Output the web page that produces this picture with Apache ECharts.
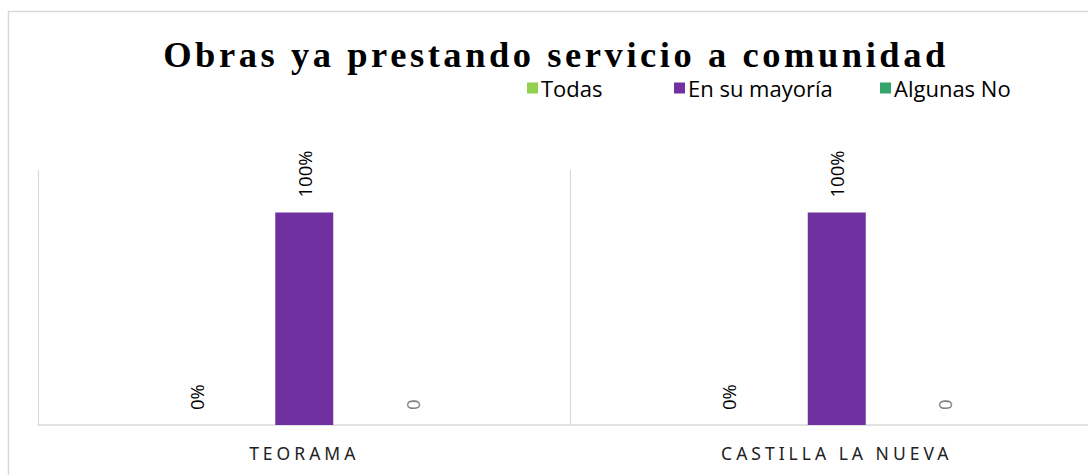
<!DOCTYPE html>
<html>
<head>
<meta charset="utf-8">
<script src="https://cdn.jsdelivr.net/npm/echarts@6/dist/echarts.min.js"></script>
<style>
  html, body { margin: 0; padding: 0; background: #fff; }
  #chart { width: 1088px; height: 475px; }
  #chart text[style*="Liberation Serif"] { letter-spacing: 3.55px; }
  #chart text[style*="Noto Sans"] { letter-spacing: 4px; }
</style>
</head>
<body>
<div id="chart"></div>
<script>
const titleText = 'Obras ya prestando servicio a comunidad';
const categories = ['TEORAMA', 'CASTILLA LA NUEVA'];
const seriesNames = ['Todas', 'En su mayoría', 'Algunas No'];
const todas = [0, 0];
const enSuMayoria = [1, 1];
const algunasNo = [0, 0];

const colors = ['#92D050', '#7030A0', '#35A46C'];

const chart = echarts.init(document.getElementById('chart'), null, { renderer: 'svg' });

function pct(p) { return Math.round(p.value * 100) + '%'; }

const labelBase = {
  show: true,
  position: 'top',
  distance: 15,
  rotate: 90,
  align: 'left',
  verticalAlign: 'middle',
  fontFamily: 'Open Sans',
  fontSize: 18.5,
  color: '#000'
};

const legendBase = {
  orient: 'horizontal',
  top: 77,
  padding: 0,
  icon: 'rect',
  itemWidth: 11,
  itemHeight: 11,
  selectedMode: false,
  textStyle: { fontFamily: 'Open Sans', fontSize: 22, color: '#000', lineHeight: 16, padding: [0, 0, 0, -2] }
};

chart.setOption({
  animation: false,
  color: colors,
  title: {
    text: titleText,
    left: 556,
    textAlign: 'center',
    top: 39,
    padding: 0,
    textStyle: { fontFamily: 'Liberation Serif', fontWeight: 'bold', fontSize: 36.5, color: '#000', lineHeight: 30 }
  },
  legend: [
    Object.assign({}, legendBase, { left: 527, data: [seriesNames[0]] }),
    Object.assign({}, legendBase, { left: 674, data: [seriesNames[1]] }),
    Object.assign({}, legendBase, { left: 880, data: [seriesNames[2]] })
  ],
  graphic: [{
    type: 'rect',
    shape: { x: 8.5, y: 11.5, width: 1200, height: 600 },
    style: { fill: 'none', stroke: '#d9d9d9', lineWidth: 1.5 },
    silent: true,
    z: -10
  }],
  grid: { left: 38, top: 170, width: 1065, height: 255, containLabel: false, outerBoundsMode: 'none' },
  xAxis: {
    type: 'category',
    data: categories,
    axisLine: { show: true, lineStyle: { color: '#d9d9d9', width: 1.5 } },
    axisTick: { show: false },
    splitLine: { show: true, lineStyle: { color: '#d9d9d9', width: 1.2 } },
    axisLabel: { fontFamily: 'Noto Sans', fontSize: 17.5, color: '#222', margin: 19 }
  },
  yAxis: {
    type: 'value',
    min: 0,
    max: 1.2,
    show: false,
    splitLine: { show: false }
  },
  series: [
    {
      name: seriesNames[0], type: 'bar', data: todas,
      barWidth: 58, barGap: '86%',
      itemStyle: { color: colors[0] },
      label: Object.assign({}, labelBase, { formatter: pct })
    },
    {
      name: seriesNames[1], type: 'bar', data: enSuMayoria,
      barWidth: 58, barGap: '86%',
      itemStyle: { color: colors[1] },
      label: Object.assign({}, labelBase, { formatter: pct })
    },
    {
      name: seriesNames[2], type: 'bar', data: algunasNo,
      barWidth: 58, barGap: '86%',
      itemStyle: { color: colors[2] },
      label: Object.assign({}, labelBase, { color: '#7f7f7f', formatter: function (p) { return String(p.value); } })
    }
  ]
});
</script>
</body>
</html>
